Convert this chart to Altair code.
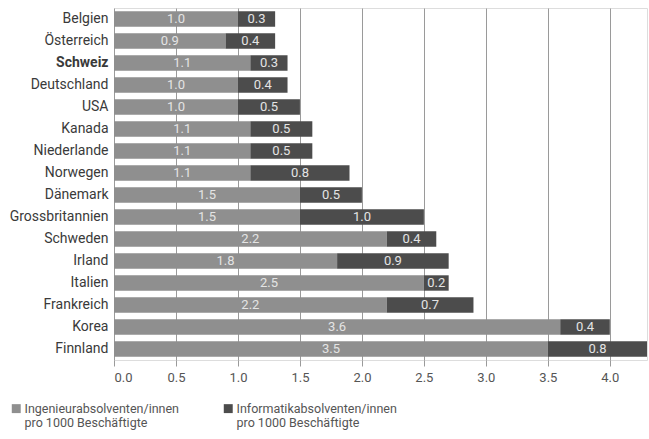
import altair as alt
import pandas as pd

countries = ["Belgien", "Österreich", "Schweiz", "Deutschland", "USA", "Kanada",
             "Niederlande", "Norwegen", "Dänemark", "Grossbritannien", "Schweden",
             "Irland", "Italien", "Frankreich", "Korea", "Finnland"]
ingenieur = [1.0, 0.9, 1.1, 1.0, 1.0, 1.1, 1.1, 1.1, 1.5, 1.5, 2.2, 1.8, 2.5, 2.2, 3.6, 3.5]
informatik = [0.3, 0.4, 0.3, 0.4, 0.5, 0.5, 0.5, 0.8, 0.5, 1.0, 0.4, 0.9, 0.2, 0.7, 0.4, 0.8]
series = ["Ingenieurabsolventen/innen|pro 1000 Beschäftigte",
          "Informatikabsolventen/innen|pro 1000 Beschäftigte"]
x_ticks = [0.0, 0.5, 1.0, 1.5, 2.0, 2.5, 3.0, 3.5, 4.0]

rows = []
for c, a, b in zip(countries, ingenieur, informatik):
    rows.append({"land": c, "serie": series[0], "ord": 0, "wert": a})
    rows.append({"land": c, "serie": series[1], "ord": 1, "wert": b})
df = pd.DataFrame(rows)

FONT = "Roboto"

base = alt.Chart(df).transform_stack(
    stack="wert", groupby=["land"], as_=["x0", "x1"], sort=[alt.SortField("ord")]
).transform_calculate(mid="(datum.x0 + datum.x1) / 2")

y_enc = alt.Y("land:N", sort=countries, title=None,
              scale=alt.Scale(paddingInner=0.3, paddingOuter=0.15),
              axis=alt.Axis(ticks=False, domain=False, labelFontSize=14,
                            labelColor="#3a3a3a", labelPadding=6, labelFont=FONT,
                            labelFontWeight={"condition": {"test": "datum.value == 'Schweiz'", "value": "bold"}, "value": "normal"}))

bars = base.mark_bar().encode(
    x=alt.X("x0:Q", title=None,
            scale=alt.Scale(domain=[0, 4.3], nice=False, zero=True),
            axis=alt.Axis(values=x_ticks, format=".1f", grid=True, gridColor="#9a9a9a",
                          gridWidth=1, domain=False, tickColor="#9a9a9a", tickSize=6,
                          labelFontSize=13, labelColor="#555555", labelPadding=5,
                          labelFont=FONT)),
    x2="x1:Q",
    y=y_enc,
    color=alt.Color("serie:N", sort=series,
                    scale=alt.Scale(domain=series, range=["#8f8f8f", "#4c4c4c"]),
                    legend=alt.Legend(title=None, orient="none", legendX=-104, legendY=394,
                                      direction="horizontal", columns=2, columnPadding=42,
                                      symbolType="square", symbolSize=80, symbolStrokeWidth=0,
                                      labelFontSize=12.5, labelColor="#555555", labelFont=FONT,
                                      labelExpr="split(datum.label, '|')", labelBaseline="middle",
                                      labelLimit=300, labelOffset=2)),
)

labels = base.mark_text(color="#e4e4e4", fontSize=13, font=FONT).encode(
    x="mid:Q",
    y=alt.Y("land:N", sort=countries),
    text=alt.Text("wert:Q", format=".1f"),
)

chart = alt.layer(bars, labels).properties(
    width=533, height=352,
    autosize=alt.AutoSizeParams(type="none"),
    padding={"left": 114, "top": 8, "right": 2, "bottom": 79},
).configure_view(stroke=None).configure(background="white")

chart.save("out.html", embed_options={"renderer": "svg", "actions": False})
